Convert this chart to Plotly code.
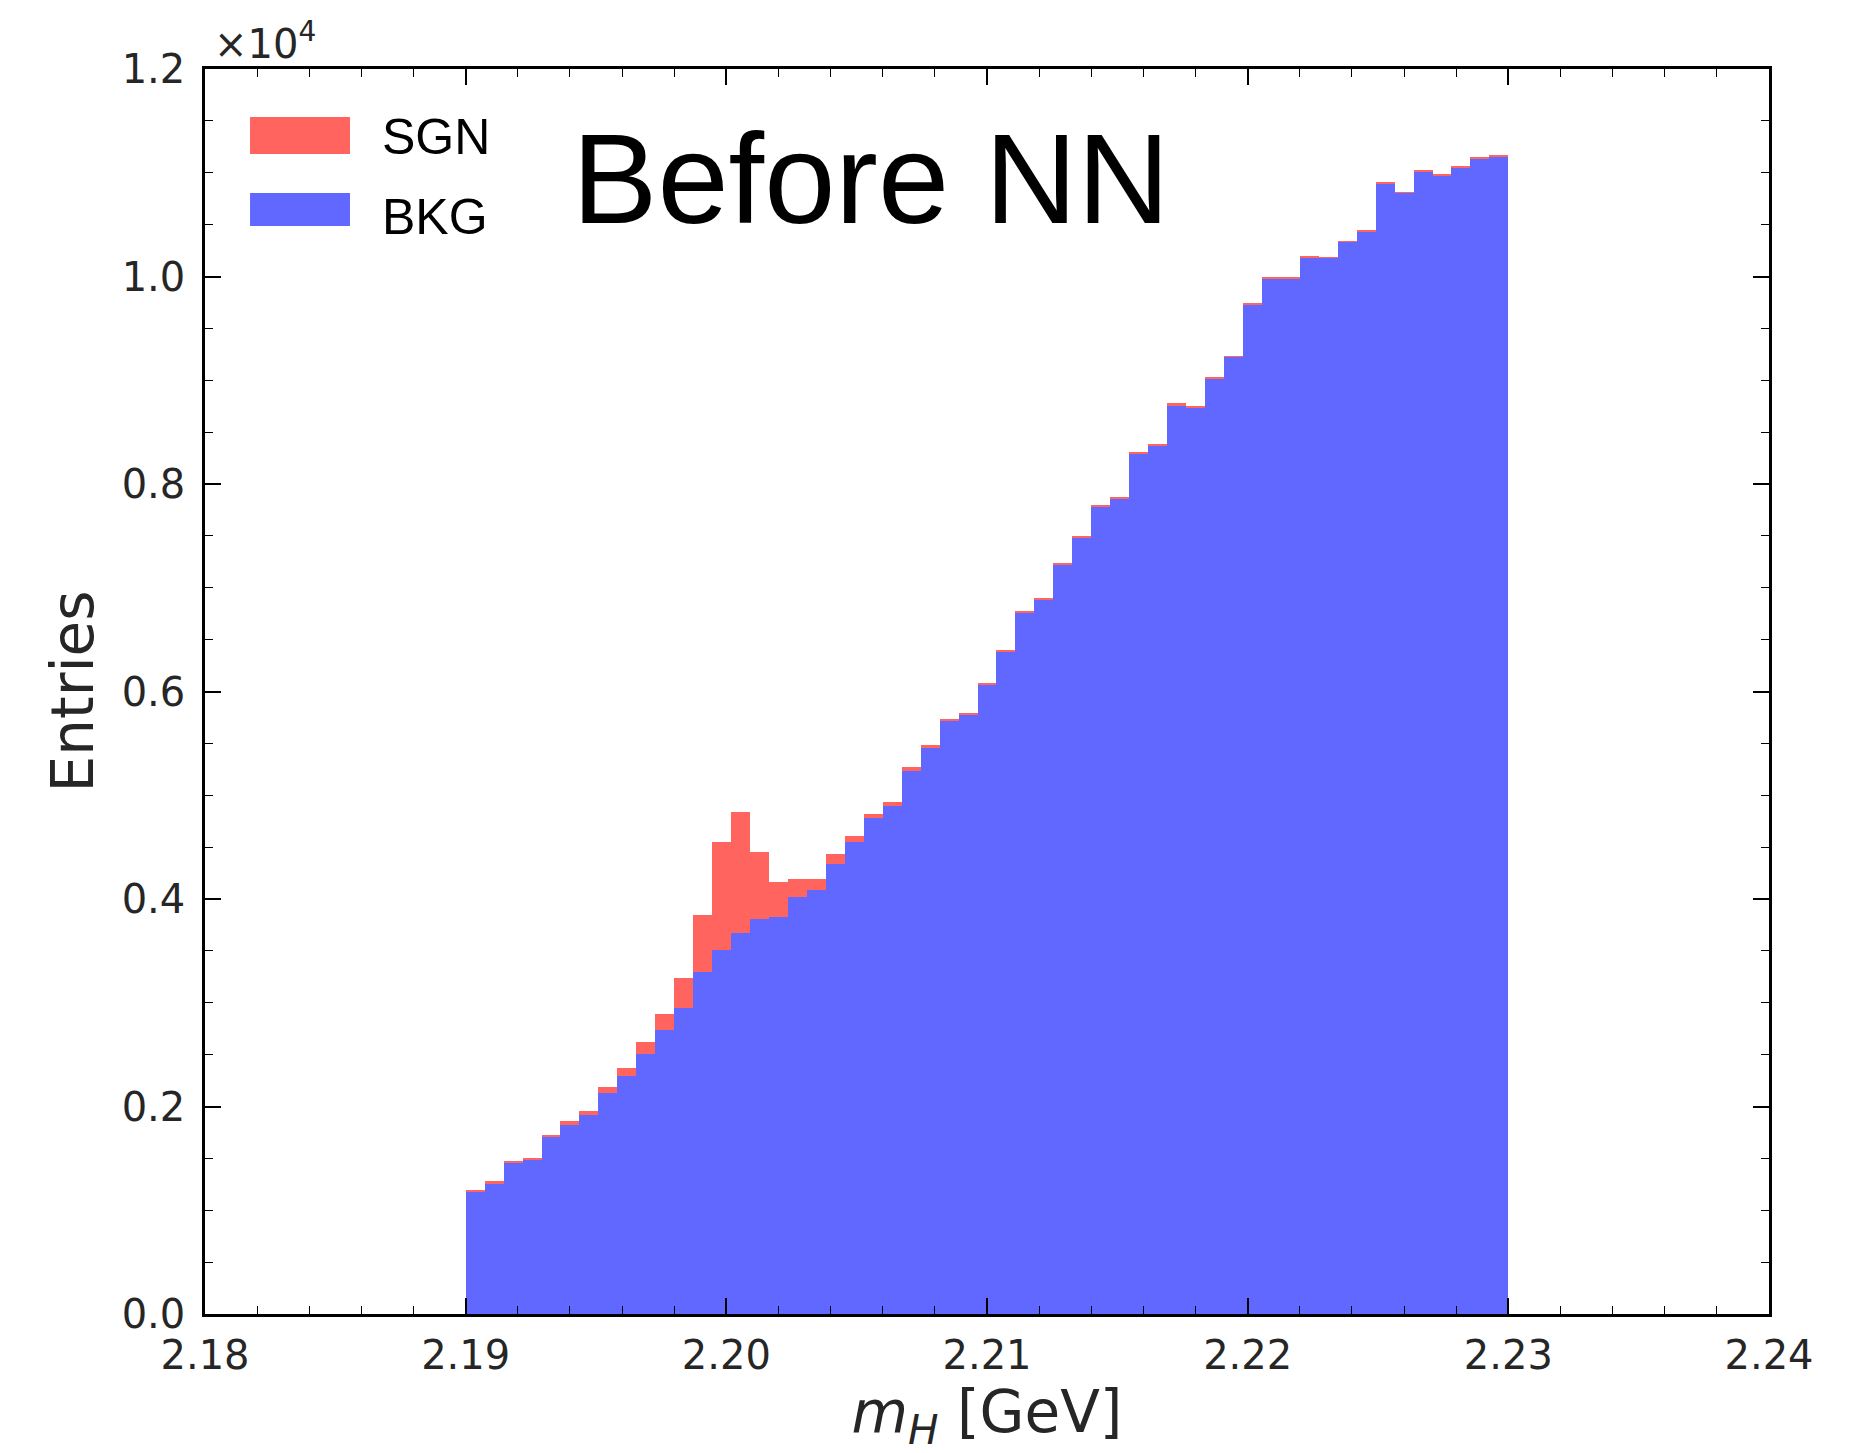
import numpy as np
import plotly.graph_objects as go

# Histogram binning (55 bins between 2.19 and 2.23 GeV)
bin_lo = 2.19
bin_hi = 2.23
n_bins = 55

# Stacked histogram contents (entries per bin)
bkg = [1176, 1260, 1452, 1484, 1706, 1822, 1918, 2133, 2291, 2503,
       2737, 2953, 3299, 3512, 3672, 3811, 3827, 4022, 4084, 4335,
       4550, 4784, 4900, 5234, 5465, 5719, 5780, 6069, 6385, 6760,
       6889, 7224, 7480, 7785, 7862, 8294, 8373, 8759, 8740, 9015,
       9225, 9733, 9985, 9985, 10182, 10180, 10337, 10436, 10900, 10805,
       11013, 10969, 11055, 11140, 11157]
sgn = [19, 19, 20, 23, 19, 38, 39, 58, 77, 117,
       158, 289, 550, 1038, 1170, 642, 334, 174, 112, 96,
       57, 36, 38, 36, 17, 16, 16, 16, 15, 16,
       16, 6, 16, 16, 6, 6, 16, 17, 5, 17,
       5, 5, 5, 5, 16, 5, 5, 16, 5, 5,
       5, 16, 5, 15, 5]

y_tickvals = [0, 2000, 4000, 6000, 8000, 10000, 12000]
y_ticktext = ["0.0", "0.2", "0.4", "0.6", "0.8", "1.0", "1.2"]
x_tickvals = [2.18, 2.19, 2.20, 2.21, 2.22, 2.23, 2.24]
x_ticktext = ["2.18", "2.19", "2.20", "2.21", "2.22", "2.23", "2.24"]

edges = np.linspace(bin_lo, bin_hi, n_bins + 1)
centers = 0.5 * (edges[:-1] + edges[1:])
width = edges[1] - edges[0]

RED = "#FF645E"
BLUE = "#6068FF"

fig = go.Figure()
fig.add_trace(go.Bar(x=centers, y=bkg, width=width, name="BKG",
                     marker=dict(color=BLUE, line=dict(width=0)), showlegend=False))
fig.add_trace(go.Bar(x=centers, y=sgn, width=width, name="SGN",
                     marker=dict(color=RED, line=dict(width=0)), showlegend=False))

tickfont = dict(family="DejaVu Sans", size=40, color="#262626")

fig.update_layout(
    width=1850, height=1453,
    margin=dict(l=197, r=89, t=61, b=147),
    paper_bgcolor="white", plot_bgcolor="white",
    barmode="stack", bargap=0,
    showlegend=False,
)
fig.update_xaxes(
    range=[2.18, 2.24], tickvals=x_tickvals, ticktext=x_ticktext,
    ticks="inside", ticklen=16, tickwidth=1.5, tickcolor="black",
    minor=dict(ticks="inside", ticklen=8, tickwidth=1.2, tickcolor="black", dtick=0.002),
    showline=True, linecolor="black", linewidth=2.5, mirror="allticks",
    showgrid=False, zeroline=False, tickfont=tickfont, ticklabelstandoff=4,
    title=dict(text="<i>m</i><sub><i>H</i></sub> [GeV]",
               font=dict(family="DejaVu Sans", size=58, color="#262626"), standoff=10),
)
fig.update_yaxes(
    range=[0, 12000], tickvals=y_tickvals, ticktext=y_ticktext,
    ticks="inside", ticklen=16, tickwidth=1.5, tickcolor="black",
    minor=dict(ticks="inside", ticklen=8, tickwidth=1.2, tickcolor="black", dtick=500),
    showline=True, linecolor="black", linewidth=2.5, mirror="allticks",
    showgrid=False, zeroline=False, tickfont=tickfont, ticklabelstandoff=9,
    title=dict(text="Entries", font=dict(family="DejaVu Sans", size=58, color="#262626"),
               standoff=10),
)

# legend drawn as patches + labels
fig.add_shape(type="rect", xref="paper", yref="paper", x0=0.0288, x1=0.0927,
              y0=0.9317, y1=0.9614, fillcolor=RED, line=dict(width=0))
fig.add_shape(type="rect", xref="paper", yref="paper", x0=0.0288, x1=0.0927,
              y0=0.8739, y1=0.9004, fillcolor=BLUE, line=dict(width=0))
legfont = dict(family="Liberation Sans", size=50, color="black")
fig.add_annotation(xref="paper", yref="paper", x=0.1119, y=0.9454, text="SGN",
                   showarrow=False, xanchor="left", yanchor="middle", font=legfont)
fig.add_annotation(xref="paper", yref="paper", x=0.1119, y=0.8811, text="BKG",
                   showarrow=False, xanchor="left", yanchor="middle", font=legfont)

fig.add_annotation(xref="paper", yref="paper", x=0.2334, y=0.912, text="Before NN",
                   showarrow=False, xanchor="left", yanchor="middle",
                   font=dict(family="Liberation Sans", size=128, color="black"))

fig.add_annotation(xref="paper", yref="paper", x=0.0045, y=1.0, text="×10<sup>4</sup>",
                   showarrow=False, xanchor="left", yanchor="bottom",
                   font=dict(family="DejaVu Sans", size=40, color="#262626"))

fig.write_html("out.html")
